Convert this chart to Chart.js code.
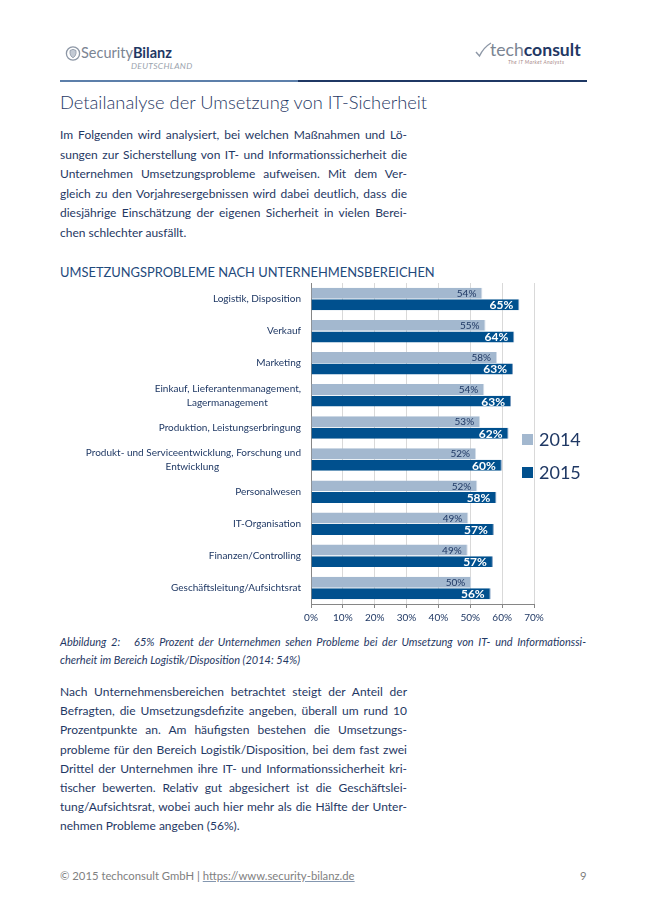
<!DOCTYPE html>
<html lang="de">
<head>
<meta charset="utf-8">
<title>Detailanalyse der Umsetzung von IT-Sicherheit</title>
<script src="https://cdn.jsdelivr.net/npm/chart.js@4.4.1/dist/chart.umd.min.js"></script>
<style>
  html, body { margin: 0; padding: 0; background: #fff; }
  body {
    width: 647px; height: 919px; position: relative; overflow: hidden;
    font-family: Lato, "Noto Sans", sans-serif; color: #1f3864;
  }
  .abs { position: absolute; }
  .rule-a { left: 60px; top: 80px; width: 238px; height: 2px; background: #5c7faa; }
  .rule-b { left: 298px; top: 80px; width: 289px; height: 2px; background: #1f3864; }
  .title { left: 60px; top: 90px; font-size: 18.3px; line-height: 24px; font-weight: 300; white-space: nowrap; }
  .para { left: 60px; width: 347px; font-size: 12px; }
  .para div, .caption div { text-align: justify; text-align-last: justify; white-space: nowrap; }
  .para div.last, .caption div.last { text-align-last: left; }
  .p1 { top: 125px; line-height: 19.6px; }
  .p2 { top: 682px; line-height: 19.2px; }
  .ctitle { left: 60px; top: 264px; font-size: 12.9px; line-height: 16px; color: #1f4a7c; white-space: nowrap; }
  .caption { left: 60px; top: 633px; width: 526px; font-size: 11px; line-height: 18px; font-style: italic; }
  #chartBox { left: 60px; top: 266px; width: 490px; height: 360px; }
  .legend { left: 522px; font-size: 18px; line-height: 22px; color: #1f3864; white-space: nowrap; }
  .legend span.sw { display: inline-block; width: 11px; height: 11px; margin-right: 6px; vertical-align: 1px; }
  .footer { left: 60px; top: 868px; font-size: 11.3px; line-height: 16px; color: #7f7f7f; white-space: nowrap; }
  .footer u { text-decoration-color: #8497b0; }
  .pagenum { left: 580px; top: 868px; font-size: 11.3px; line-height: 16px; color: #7f7f7f; }
</style>
</head>
<body>

<!-- Kopfzeile -->
<svg class="abs" style="left:65px;top:45px" width="16" height="17" viewBox="0 0 16 17">
  <circle cx="8" cy="8.5" r="6.6" fill="none" stroke="#8d97a6" stroke-width="1.3"/>
  <path d="M5 5.5 L8 4.3 L11 5.5 L11 8.5 Q10.5 11.5 8 12.8 Q5.5 11.5 5 8.5 Z" fill="#c3cad4" stroke="#8d97a6" stroke-width="0.8"/>
</svg>
<div class="abs" style="left:81px;top:44px;font-size:14.5px;line-height:18px;white-space:nowrap">
  <span style="color:#7b8593">Security</span><span style="font-weight:bold;color:#1f3864">Bilanz</span>
</div>
<div class="abs" style="left:131px;top:61px;font-size:8.5px;line-height:10px;font-style:italic;color:#9aa3ae;letter-spacing:0.3px">DEUTSCHLAND</div>

<svg class="abs" style="left:475px;top:42px" width="17" height="17" viewBox="0 0 17 17">
  <path d="M1 10 L4.5 14 Q8.5 5.5 16 1" fill="none" stroke="#8d97a6" stroke-width="1.4"/>
</svg>
<div class="abs" style="left:490px;top:40px;font-size:17.6px;line-height:20px;white-space:nowrap">
  <span style="color:#7b8593">tech</span><span style="font-weight:bold;color:#1f3864">consult</span>
</div>
<div class="abs" style="left:508px;top:59px;font-size:5px;line-height:6px;font-style:italic;color:#a88a8a;letter-spacing:0.4px">The IT Market Analysts</div>

<div class="abs rule-a"></div>
<div class="abs rule-b"></div>

<div class="abs title">Detailanalyse der Umsetzung von IT-Sicherheit</div>

<div class="abs para p1">
  <div>Im Folgenden wird analysiert, bei welchen Maßnahmen und Lö-</div>
  <div>sungen zur Sicherstellung von IT- und Informationssicherheit die</div>
  <div>Unternehmen Umsetzungsprobleme aufweisen. Mit dem Ver-</div>
  <div>gleich zu den Vorjahresergebnissen wird dabei deutlich, dass die</div>
  <div>diesjährige Einschätzung der eigenen Sicherheit in vielen Berei-</div>
  <div class="last">chen schlechter ausfällt.</div>
</div>

<div class="abs ctitle">UMSETZUNGSPROBLEME NACH UNTERNEHMENSBEREICHEN</div>

<div class="abs" id="chartBox"><canvas id="barChart"></canvas></div>
<div id="legendBox"></div>

<div class="abs caption">
  <div>Abbildung 2:&nbsp;&nbsp; 65% Prozent der Unternehmen sehen Probleme bei der Umsetzung von IT- und Informationssi-</div>
  <div class="last">cherheit im Bereich Logistik/Disposition (2014: 54%)</div>
</div>

<div class="abs para p2">
  <div>Nach Unternehmensbereichen betrachtet steigt der Anteil der</div>
  <div>Befragten, die Umsetzungsdefizite angeben, überall um rund 10</div>
  <div>Prozentpunkte an. Am häufigsten bestehen die Umsetzungs-</div>
  <div>probleme für den Bereich Logistik/Disposition, bei dem fast zwei</div>
  <div>Drittel der Unternehmen ihre IT- und Informationssicherheit kri-</div>
  <div>tischer bewerten. Relativ gut abgesichert ist die Geschäftslei-</div>
  <div>tung/Aufsichtsrat, wobei auch hier mehr als die Hälfte der Unter-</div>
  <div class="last">nehmen Probleme angeben (56%).</div>
</div>

<div class="abs footer">© 2015 techconsult GmbH | <u>https://www.security-bilanz.de</u></div>
<div class="abs pagenum">9</div>

<script>
// Daten aus der Abbildung
const categories = [
    'Logistik, Disposition',
    'Verkauf',
    'Marketing',
    ['Einkauf, Lieferantenmanagement,', 'Lagermanagement'],
    'Produktion, Leistungserbringung',
    ['Produkt- und Serviceentwicklung, Forschung und', 'Entwicklung'],
    'Personalwesen',
    'IT-Organisation',
    'Finanzen/Controlling',
    'Geschäftsleitung/Aufsichtsrat'
];
const seriesLabels = ['2014', '2015'];
const values2014 = [53.8, 54.8, 58.4, 54.4, 53.1, 51.8, 52.2, 49.4, 49.2, 50.3];
const values2015 = [65.4, 63.8, 63.4, 62.8, 62.0, 59.9, 58.2, 57.4, 57.1, 56.4];
const xTicks = [0, 10, 20, 30, 40, 50, 60, 70];

const colors = ['#a3b8cf', '#00508e'];
const textColor = '#1f3864';
const labelFont = 'Lato, "Noto Sans", sans-serif';

// mehrzeilige Beschriftungen zentriert ausrichten (mit Leerzeichen auffüllen)
function centerLines(label) {
    if (!Array.isArray(label)) return label;
    const c = document.createElement('canvas').getContext('2d');
    c.font = '10px ' + labelFont;
    const widths = label.map(l => c.measureText(l).width);
    const maxW = Math.max(...widths);
    const sp = c.measureText('\u00a0').width;
    return label.map((l, i) => l + '\u00a0'.repeat(Math.round((maxW - widths[i]) / 2 / sp)));
}

// Prozentwerte an den Balkenenden
const barValueLabels = {
    id: 'barValueLabels',
    afterDatasetsDraw(chart) {
        const ctx = chart.ctx;
        chart.data.datasets.forEach((ds, i) => {
            chart.getDatasetMeta(i).data.forEach((bar, j) => {
                ctx.save();
                ctx.font = (i === 0 ? '10px ' : 'bold 12px ') + labelFont;
                ctx.fillStyle = i === 0 ? textColor : '#ffffff';
                ctx.textAlign = 'right';
                ctx.textBaseline = 'middle';
                ctx.fillText(Math.round(ds.data[j]) + '%', bar.x - 6, bar.y + 0.5);
                ctx.restore();
            });
        });
    }
};

document.addEventListener('DOMContentLoaded', function() {
    const ctx = document.getElementById('barChart').getContext('2d');

    new Chart(ctx, {
        type: 'bar',
        data: {
            labels: categories.map(centerLines),
            datasets: [{
                label: seriesLabels[0],
                data: values2014,
                backgroundColor: colors[0],
                borderColor: '#d3dde8',
                borderWidth: { top: 0, right: 1, bottom: 0, left: 0 },
                borderSkipped: false,
                categoryPercentage: 0.72,
                barPercentage: 0.95
            }, {
                label: seriesLabels[1],
                data: values2015,
                backgroundColor: colors[1],
                borderColor: '#7b9cc0',
                borderWidth: { top: 0, right: 1, bottom: 0, left: 0 },
                borderSkipped: false,
                categoryPercentage: 0.72,
                barPercentage: 0.95
            }]
        },
        options: {
            indexAxis: 'y',
            responsive: true,
            maintainAspectRatio: false,
            animation: false,
            layout: { padding: { top: 0, right: 16, left: 0, bottom: 0 } },
            plugins: {
                legend: { display: false },
                tooltip: { enabled: false }
            },
            scales: {
                x: {
                    min: 0,
                    max: 70,
                    afterBuildTicks: axis => { axis.ticks = xTicks.map(v => ({ value: v })); },
                    afterFit: axis => { axis.height = 22; },
                    grid: { color: '#d9d9d9', tickColor: '#868686', tickLength: 4 },
                    border: { color: '#868686' },
                    ticks: {
                        callback: v => v + '%',
                        color: textColor,
                        font: { family: labelFont, size: 10 },
                        padding: 4,
                        maxRotation: 0
                    }
                },
                y: {
                    afterFit: axis => { axis.width = 251; },
                    grid: { display: false, drawTicks: false },
                    border: { display: true, color: '#868686' },
                    ticks: {
                        color: textColor,
                        font: { family: labelFont, size: 10, lineHeight: 1.4 },
                        padding: 10,
                        autoSkip: false
                    }
                }
            }
        },
        plugins: [barValueLabels]
    });

    // Legende rechts neben dem Diagramm
    const legendBox = document.getElementById('legendBox');
    const legendTops = [428, 461];
    seriesLabels.forEach((lbl, i) => {
        const item = document.createElement('div');
        item.className = 'abs legend';
        item.style.top = legendTops[i] + 'px';
        item.innerHTML = '<span class="sw" style="background:' + colors[i] + '"></span>' + lbl;
        legendBox.appendChild(item);
    });
});
</script>
</body>
</html>
